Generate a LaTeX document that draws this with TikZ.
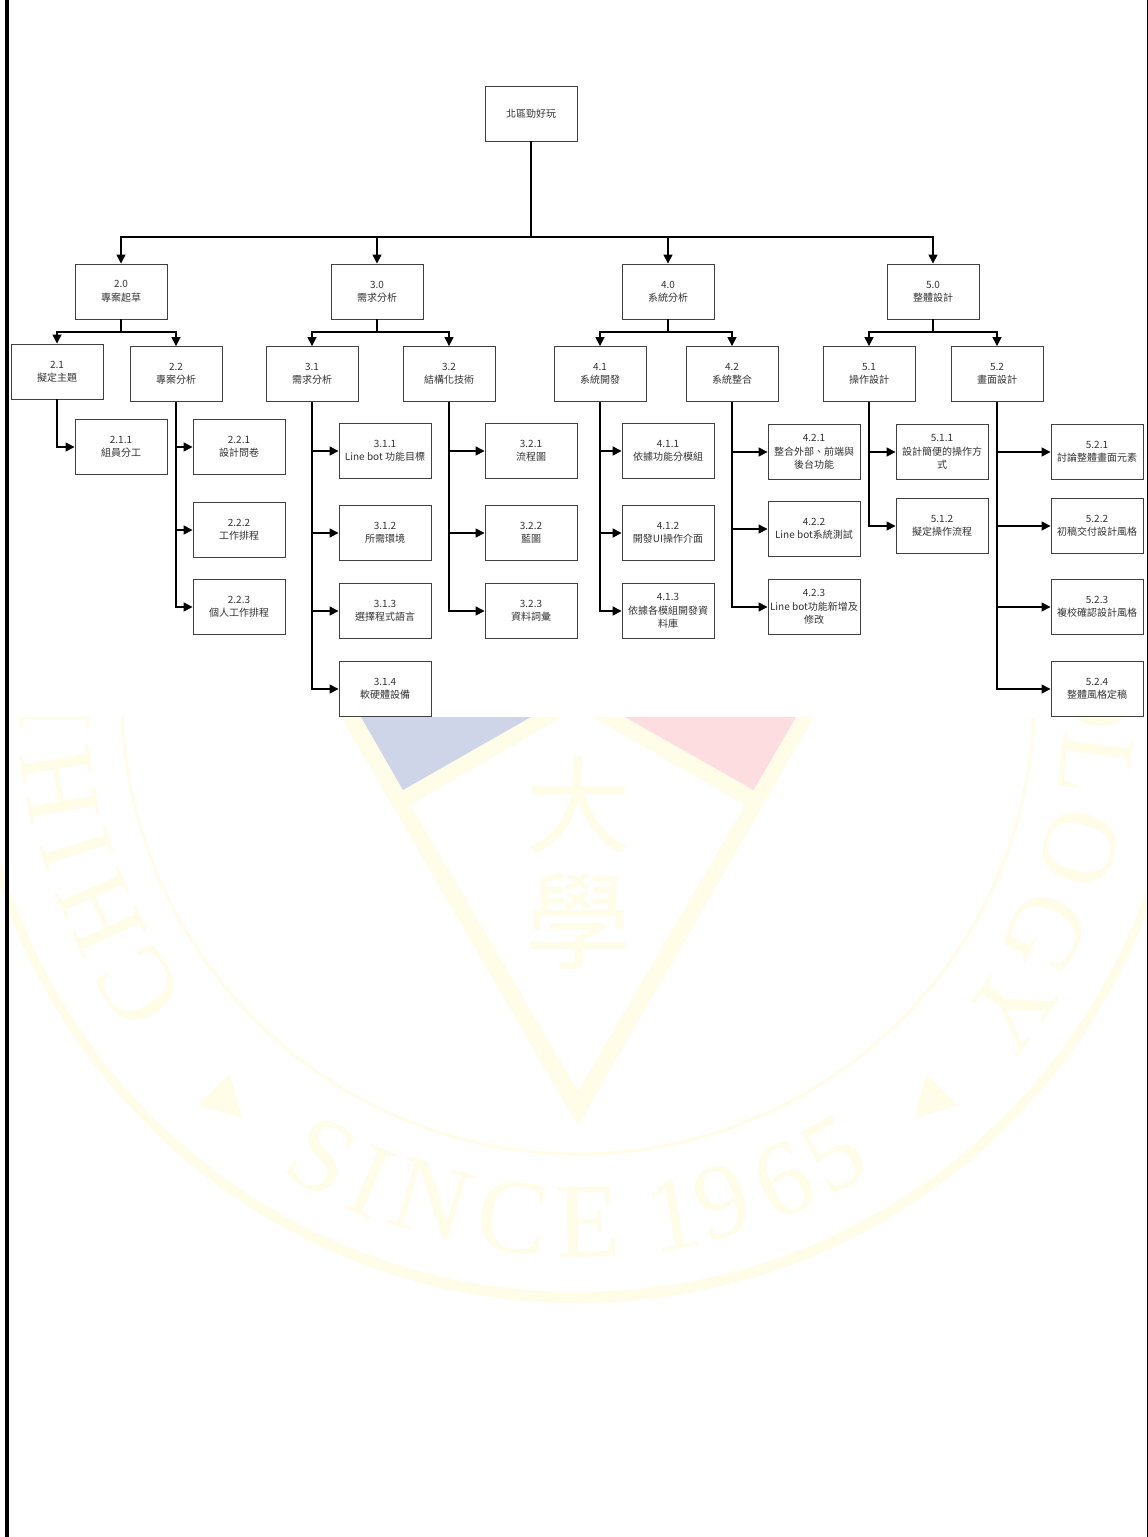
\documentclass[tikz,border=0pt]{standalone}
\usepackage{fontspec}
\setmainfont{Noto Sans CJK TC}
\newfontfamily\sealserif{Liberation Serif}
\usetikzlibrary{arrows.meta}
\definecolor{sealyellow}{HTML}{FFFCE8}
\definecolor{sealblue}{HTML}{CFD5E9}
\definecolor{sealred}{HTML}{FDDDDF}
\definecolor{boxline}{HTML}{404040}
\tikzset{
    wbsbox/.style={draw=boxline, line width=0.9pt, minimum width=92pt, minimum height=55pt, inner sep=0pt,
        align=center, text=black!80, font=\fontsize{10}{13.4}\selectfont},
    link/.style={-{Triangle[length=9pt,width=9pt]}, line width=1.5pt, black},
    sealletter/.style={text=sealyellow, inner sep=0pt, font=\sealserif\fontsize{106}{106}\selectfont},
    sealglyph/.style={text=sealyellow, inner sep=0pt, font=\fontsize{106}{106}\selectfont}
}

\begin{document}
\begin{tikzpicture}[x=1pt, y=-1pt]
    \useasboundingbox (0,0) rectangle (1148,1537);
    \fill[white] (0,0) rectangle (1148,1537);
    %Watermark
    \begin{scope}
        \clip (0,717) rectangle (1148,1537);
        \fill[sealyellow, even odd rule] (578,698) ellipse [x radius=608pt, y radius=605pt]
            (578,698) ellipse [x radius=600pt, y radius=594pt];
        \draw[sealyellow, line width=3pt] (578,698) circle [radius=456pt];
        \fill[sealyellow] (341,717) -- (578,1126) -- (814,717) -- cycle;
        \fill[white] (562,717) -- (411,805) -- (578,1091) -- (745,805) -- (592,717) -- cycle;
        \fill[sealblue] (361,717) -- (531,717) -- (403,790) -- cycle;
        \fill[sealred] (625,717) -- (796,717) -- (753.5,790) -- cycle;
        \fill[sealyellow] (230,1074) -- (198,1105) -- (242,1118) -- cycle;
        \fill[sealyellow] (926,1074) -- (958,1105) -- (915,1118) -- cycle;
        \fill[sealyellow] (1100,690) ellipse [x radius=38pt, y radius=36pt];
        \node[sealglyph] (sealA) at (578,805) {大};
        \node[sealglyph] (sealB) at (578,922) {學};
        \foreach \name/\x/\y/\rot/\ch in {
            wa/139/987/123/C, wb/101/913/114/H, wc/77/850/107/I, wd/60/785/99.5/H, we/55/699/90/L,
            wg/1096/765/-97.4/L, wh/1079.5/848/-106.7/O, wi/1045/933/-116.7/G, wj/1010/1008/-125.7/Y,
            wk/322/1156.5/-29.2/S, wl/370/1182/-23.3/I, wm/432/1200/-16.2/N, wn/513/1218/-7.1/C, wo/588/1222/1/E,
            wp/673/1214/10.4/1, wq/722/1202/16/9, wr/783/1180/23/6, ws/834/1154.5/29/5}{
            \node[sealletter, rotate=\rot] (\name) at (\x,\y) {\ch};
        }
    \end{scope}
    %Frames
    \fill[black] (5,0) rectangle (9,1537);
    \fill[black] (1146.5,0) rectangle (1148,1537);
    %Boxes
    \foreach \name/\x/\y/\txt in {
        root/531/113.5/{北區勁好玩},
        n20/121/291.5/{2.0\\專案起草}, n30/377/291.5/{3.0\\需求分析},
        n40/668/291.5/{4.0\\系統分析}, n50/933/291.5/{5.0\\整體設計},
        n21/57/371.5/{2.1\\擬定主題}, n22/176/374/{2.2\\專案分析},
        n31/312/374/{3.1\\需求分析}, n32/449/374/{3.2\\結構化技術},
        n41/600/374/{4.1\\系統開發}, n42/732/374/{4.2\\系統整合},
        n51/869/374/{5.1\\操作設計}, n52/997/374/{5.2\\畫面設計},
        n211/121/447/{2.1.1\\組員分工},
        n221/239/447/{2.2.1\\設計問卷}, n222/239/530/{2.2.2\\工作排程}, n223/239/607/{2.2.3\\個人工作排程},
        n311/385/451/{3.1.1\\Line bot 功能目標}, n312/385/533/{3.1.2\\所需環境},
        n313/385/611/{3.1.3\\選擇程式語言}, n314/385/689/{3.1.4\\軟硬體設備},
        n321/531/451/{3.2.1\\流程圖}, n322/531/533/{3.2.2\\藍圖}, n323/531/611/{3.2.3\\資料詞彙},
        n411/668/451/{4.1.1\\依據功能分模組}, n412/668/533/{4.1.2\\開發UI操作介面},
        n413/668/611/{4.1.3\\依據各模組開發資\\料庫},
        n421/814/452/{4.2.1\\整合外部、前端與\\後台功能}, n422/814/529/{4.2.2\\Line bot系統測試},
        n423/814/607/{4.2.3\\Line bot功能新增及\\修改},
        n511/942/452/{5.1.1\\設計簡便的操作方\\式}, n512/942/526/{5.1.2\\擬定操作流程},
        n521/1097/452/{5.2.1\\討論整體畫面元素}, n522/1097/526/{5.2.2\\初稿交付設計風格},
        n523/1097/607/{5.2.3\\複校確認設計風格}, n524/1097/689/{5.2.4\\整體風格定稿}}{
        \node[wbsbox] (\name) at (\x,\y) {\txt};
    }
    %Extra coordinates for the bus lines
    \coordinate (busTop) at (0,237);
    \coordinate (busMid) at (0,332);
    %Paths (top-down, left-right)
    \foreach \t in {n20,n30,n40,n50}{
        \draw[link] (root.south) |- (\t |- busTop) -- (\t.north);
    }
    \foreach \s/\t in {n20/n21,n20/n22,n30/n31,n30/n32,n40/n41,n40/n42,n50/n51,n50/n52}{
        \draw[link] (\s.south) |- (\t |- busMid) -- (\t.north);
    }
    \foreach \s/\t in {n21/n211,n22/n221,n22/n222,n22/n223,n31/n311,n31/n312,n31/n313,n31/n314,
        n32/n321,n32/n322,n32/n323,n41/n411,n41/n412,n41/n413,n42/n421,n42/n422,n42/n423,
        n51/n511,n51/n512,n52/n521,n52/n522,n52/n523,n52/n524}{
        \draw[link] (\s.south) |- (\t.west);
    }
\end{tikzpicture}
\end{document}
